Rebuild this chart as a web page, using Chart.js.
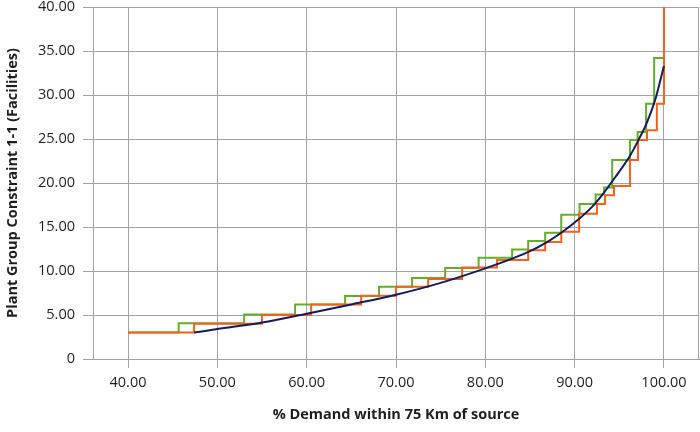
<!DOCTYPE html>
<html><head><meta charset="utf-8">
<script src="https://cdn.jsdelivr.net/npm/chart.js@4/dist/chart.umd.min.js"></script>
<style>html,body{margin:0;padding:0;background:#fff}#wrap{width:700px;height:432px}</style>
</head><body><div id="wrap"><canvas id="c" width="700" height="432"></canvas></div>
<script>
// ---- data ----
const xTickValues = [40, 50, 60, 70, 80, 90, 100];
const xTickLabels = ['40.00', '50.00', '60.00', '70.00', '80.00', '90.00', '100.00'];
const yTickValues = [0, 5, 10, 15, 20, 25, 30, 35, 40];
const yTickLabels = ['0', '5.00', '10.00', '15.00', '20.00', '25.00', '30.00', '35.00', '40.00'];

// green step series: level y starts at x
const greenX = [40, 45.67, 53.0, 58.7, 64.3, 68.1, 71.8, 75.5, 79.25, 83.0, 84.8, 86.7, 88.5, 90.55, 92.35, 93.3, 94.2, 96.2, 97.05, 98.0, 98.9, 100];
const greenY = [3.0, 4.05, 5.05, 6.2, 7.15, 8.2, 9.2, 10.35, 11.5, 12.45, 13.4, 14.35, 16.4, 17.6, 18.7, 19.5, 22.6, 24.9, 25.8, 29.0, 34.2, 34.2];

// orange step series: level y starts at x
const orangeX = [40, 47.4, 55.0, 60.5, 66.1, 70.0, 73.6, 77.4, 81.3, 84.8, 86.7, 88.5, 90.5, 92.5, 93.4, 94.4, 96.2, 97.1, 98.1, 99.2, 100];
const orangeY = [3.0, 4.0, 5.0, 6.2, 7.2, 8.2, 9.1, 10.4, 11.25, 12.35, 13.3, 14.45, 16.5, 17.6, 18.6, 19.65, 22.6, 24.9, 26.0, 29.0, 40.0];

// navy smooth curve
const curveX = [47.4, 50, 55, 60, 65, 70, 75, 80, 83, 85, 87, 88.5, 90, 92, 93.2, 94.5, 96.2, 97.05, 98.1, 99.0, 100];
const curveY = [3.0, 3.4, 4.15, 5.15, 6.2, 7.3, 8.65, 10.3, 11.4, 12.25, 13.35, 14.35, 15.5, 17.35, 18.8, 20.6, 23.1, 24.7, 26.9, 29.4, 33.3];

const toPts = (xs, ys) => xs.map((x, i) => ({x: x, y: ys[i]}));

const gridColor = '#a3a3a3';
const textColor = '#1e1e1e';
const tickFont = {family: "'Open Sans'", size: 14.5, lineHeight: 1.0};
const titleFont = {family: "'Open Sans'", size: 14.5, weight: 'bold'};

const rightBorder = {
  id: 'rightBorder',
  afterDraw(chart) {
    const a = chart.chartArea, ctx = chart.ctx;
    ctx.save();
    ctx.strokeStyle = gridColor; ctx.lineWidth = 1;
    ctx.beginPath();
    ctx.moveTo(Math.round(a.right) - 0.5, a.top);
    ctx.lineTo(Math.round(a.right) - 0.5, a.bottom);
    ctx.stroke();
    ctx.restore();
  }
};

new Chart(document.getElementById('c'), {
  type: 'scatter',
  data: {
    datasets: [
      {label: 'Curve', data: toPts(curveX, curveY), showLine: true, borderColor: '#111c5c', borderWidth: 2,
       pointRadius: 0, cubicInterpolationMode: 'monotone', order: 0},
      {label: 'Lower step', data: toPts(orangeX, orangeY), showLine: true, stepped: 'before', borderColor: '#f4601d', borderWidth: 2,
       pointRadius: 0, order: 1},
      {label: 'Upper step', data: toPts(greenX, greenY), showLine: true, stepped: 'before', borderColor: '#64ad2b', borderWidth: 2,
       pointRadius: 0, order: 2}
    ]
  },
  options: {
    responsive: false,
    animation: false,
    layout: {padding: {left: 0, right: 1, top: 7, bottom: 0}},
    plugins: {legend: {display: false}, tooltip: {enabled: false}},
    scales: {
      x: {
        type: 'linear', min: 36.08, max: 103.92,
        afterBuildTicks: s => { s.ticks = xTickValues.map(v => ({value: v})); },
        afterFit: s => { s.height = 73; s.paddingLeft = 0; s.paddingRight = 0; },
        grid: {color: gridColor, tickLength: 9, tickColor: gridColor},
        border: {color: gridColor},
        ticks: {color: textColor, font: tickFont, padding: 8, maxRotation: 0,
                callback: (v, i) => xTickLabels[i]},
        title: {display: true, text: '% Demand within 75 Km of source', color: textColor, font: titleFont,
                padding: {top: 0, bottom: 8}}
      },
      y: {
        type: 'linear', min: 0, max: 40,
        afterBuildTicks: s => { s.ticks = yTickValues.map(v => ({value: v})); },
        afterFit: s => { s.width = 93; s.paddingTop = 0; s.paddingBottom = 0; },
        grid: {color: gridColor, tickLength: 10, tickColor: gridColor},
        border: {color: gridColor},
        ticks: {color: textColor, font: tickFont, padding: 8,
                callback: (v, i) => yTickLabels[i]},
        title: {display: true, text: 'Plant Group Constraint 1-1 (Facilities)', color: textColor, font: titleFont,
                padding: {top: 4, bottom: 4}}
      }
    }
  },
  plugins: [rightBorder]
});
</script>
</body></html>
